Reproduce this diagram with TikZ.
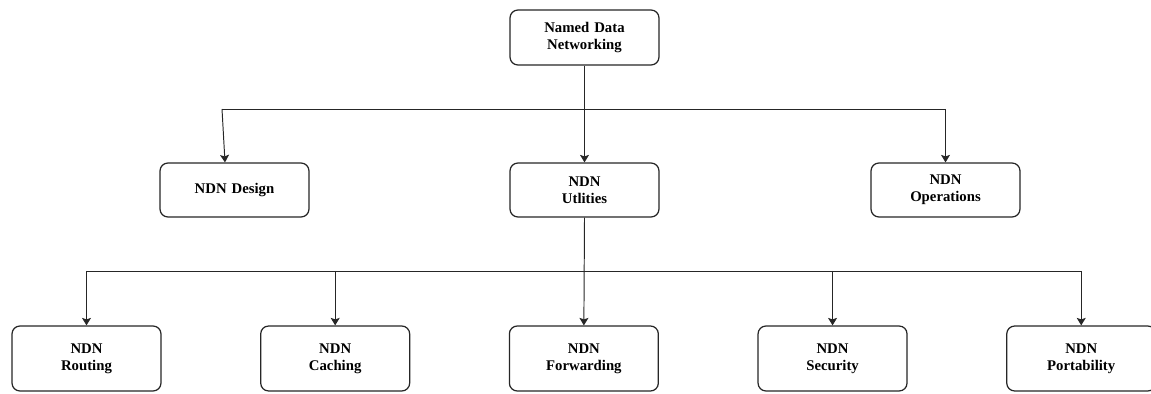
\documentclass[tikz,border=0pt]{standalone}
\usepackage{fontspec}
\setmainfont{Liberation Serif}
\usetikzlibrary{arrows.meta, positioning}
\tikzset{
  % Box styles
  topicbox/.style={rectangle, rounded corners=4.5pt, minimum width=2.98cm, minimum height=#1, text width=2.7cm, align=center, draw=black!85, line width=0.7pt, fill=white, font=\fontsize{8.4}{9.8}\selectfont\bfseries},
  topicbox/.default={1.08cm},
  % Connector styles
  link/.style={line width=0.55pt, draw=black!85},
  arrow/.style={link, -{Stealth[length=1.5mm, width=1.8mm, inset=0.3mm]}},
}

\begin{document}
\begin{tikzpicture}[x=0.02cm, y=-0.02cm, node distance=1.97cm]
    \useasboundingbox (0,0) rectangle (1151,394);

    % Root
    \node[topicbox=1.1cm] (ndn) at (584.5,37.5) {Named Data\\Networking};

    % Second level
    \node[topicbox] (design) at (234.5,190) {NDN Design};
    \node[topicbox] (util) at (584.5,190) {NDN\\Utlities};
    \node[topicbox] (ops) at (945.5,190) {NDN\\Operations};

    % Third level
    \node[topicbox=1.3cm] (routing) at (86.5,358.5) {NDN\\Routing};
    \node[topicbox=1.3cm, right=of routing] (caching) {NDN\\Caching};
    \node[topicbox=1.3cm, right=of caching] (forwarding) {NDN\\Forwarding};
    \node[topicbox=1.3cm, right=of forwarding] (security) {NDN\\Security};
    \node[topicbox=1.3cm, right=of security] (portab) {NDN\\Portability};

    % Bus under the root
    \coordinate (busa) at (222,109);
    \coordinate (busb) at (ops.north |- busa);
    \draw[link] (busa) -- (busb);
    \draw[arrow] (ndn.south) -- (util.north);
    \draw[arrow] (busa) -- ([xshift=-0.19cm]design.north);
    \draw[arrow] (busb) -- (ops.north);

    % Bus under the utilities
    \coordinate (busc) at (584.5,271);
    \draw[link] (routing.north |- busc) -- (portab.north |- busc);
    \foreach \n in {routing, caching, security, portab}
      \draw[arrow] (\n.north |- busc) -- (\n.north);
    \draw[arrow] (util.south) -- (forwarding.north);
\end{tikzpicture}
\end{document}
